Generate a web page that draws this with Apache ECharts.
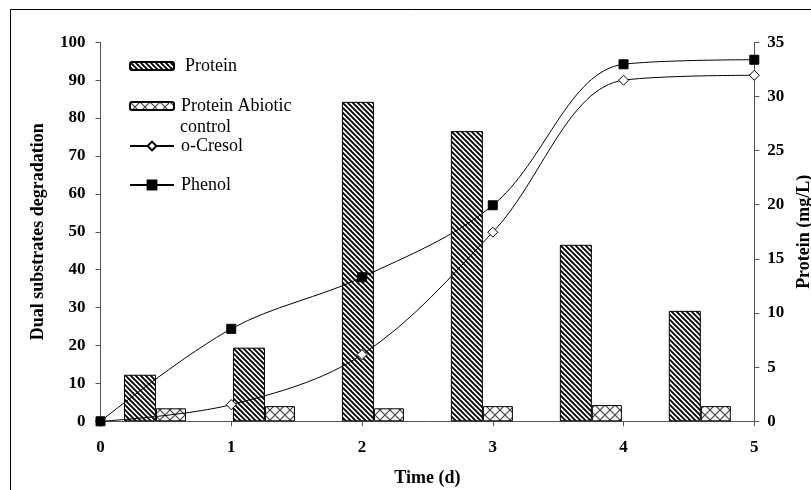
<!DOCTYPE html>
<html>
<head>
<meta charset="utf-8">
<script src="https://cdn.jsdelivr.net/npm/echarts@6/dist/echarts.min.js"></script>
<style>
  html, body { margin: 0; padding: 0; background: #fff; }
  #chart { width: 811px; height: 490px; }
</style>
</head>
<body>
<div id="chart"></div>
<script>
// time points (d) for the degradation curves
const days = [0, 1, 2, 3, 4, 5]
// dual substrates degradation (%)
const phenol = [0, 24.4, 38.0, 57.0, 94.2, 95.4]
const cresol = [0, 4.4, 17.6, 49.9, 90.0, 91.3]
// protein (mg/L), one bar group per day interval
const barSlots = ['0', '1', '2', '3', '4', '5']
const protein = [4.3, 6.8, 29.5, 26.8, 16.3, 10.2]
const abiotic = [1.2, 1.4, 1.2, 1.4, 1.5, 1.4]

const FONT = 'Liberation Serif, Times New Roman, serif'

// diagonal stripes for Protein bars
function stripePattern() {
  const c = document.createElement('canvas')
  c.width = 5; c.height = 5
  const g = c.getContext('2d')
  g.fillStyle = '#fff'
  g.fillRect(0, 0, 5, 5)
  g.strokeStyle = '#000'
  g.lineWidth = 1.9
  g.beginPath()
  g.moveTo(-1, -1); g.lineTo(6, 6)
  g.moveTo(-1, 4); g.lineTo(1, 6)
  g.moveTo(4, -1); g.lineTo(6, 1)
  g.stroke()
  return c
}

// cross hatch for abiotic control bars
function crossPattern() {
  const c = document.createElement('canvas')
  c.width = 10; c.height = 10
  const g = c.getContext('2d')
  g.fillStyle = '#fff'
  g.fillRect(0, 0, 10, 10)
  g.strokeStyle = '#444'
  g.lineWidth = 1.2
  g.beginPath()
  g.moveTo(0, 0); g.lineTo(10, 10)
  g.moveTo(10, 0); g.lineTo(0, 10)
  g.stroke()
  return c
}

const chart = echarts.init(document.getElementById('chart'))

const axisLine = { show: true, lineStyle: { color: '#555', width: 1 } }
const axisTick = { show: true, inside: false, length: 5, lineStyle: { color: '#555' } }
const labelStyle = { color: '#000', fontFamily: FONT, fontWeight: 'bold', fontSize: 17 }
const nameStyle = { color: '#000', fontFamily: FONT, fontWeight: 'bold', fontSize: 18 }

function legendAt(name, top, extra) {
  return Object.assign({
    data: [name],
    orient: 'vertical',
    left: 129,
    top: top,
    padding: 0,
    itemWidth: 44,
    itemHeight: 8,
    selectedMode: false,
    textStyle: { color: '#000', fontFamily: FONT, fontSize: 18, padding: [0, 0, 0, 2] }
  }, extra || {})
}

const option = {
  animation: false,
  backgroundColor: '#fff',
  grid: { left: 100.5, right: 56.7, top: 42.3, bottom: 68.7, containLabel: false, outerBoundsMode: 'none' },
  graphic: [
    {
      type: 'rect',
      shape: { x: 10.5, y: 9.5, width: 1000, height: 1000 },
      style: { fill: 'none', stroke: '#000', lineWidth: 1 },
      silent: true
    },
    {
      type: 'text',
      left: 180,
      top: 118,
      style: { text: 'control', fill: '#000', font: '18px ' + FONT }
    }
  ],
  legend: [
    legendAt('Protein', 57, { textStyle: { color: '#000', fontFamily: FONT, fontSize: 18, padding: [0, 0, 0, 6] } }),
    legendAt('Protein Abiotic control', 97, { formatter: () => 'Protein Abiotic' }),
    legendAt('o-Cresol', 137, { itemHeight: 11 }),
    legendAt('Phenol', 176, { itemHeight: 11 })
  ],
  xAxis: [
    {
      type: 'value',
      min: 0,
      max: 5,
      interval: 1,
      name: 'Time (d)',
      nameLocation: 'middle',
      nameGap: 48,
      nameTextStyle: nameStyle,
      axisLine: axisLine,
      axisTick: axisTick,
      axisLabel: Object.assign({ margin: 18 }, labelStyle),
      splitLine: { show: false }
    },
    {
      type: 'category',
      data: barSlots,
      show: false,
      boundaryGap: true
    }
  ],
  yAxis: [
    {
      type: 'value',
      min: 0,
      max: 100,
      interval: 10,
      name: 'Dual substrates degradation',
      nameLocation: 'middle',
      nameGap: 53,
      nameTextStyle: nameStyle,
      axisLine: axisLine,
      axisTick: axisTick,
      axisLabel: Object.assign({ margin: 15 }, labelStyle),
      splitLine: { show: false }
    },
    {
      type: 'value',
      position: 'right',
      min: 0,
      max: 35,
      interval: 5,
      name: 'Protein (mg/L)',
      nameLocation: 'middle',
      nameGap: 41,
      nameTextStyle: nameStyle,
      axisLine: axisLine,
      axisTick: axisTick,
      axisLabel: Object.assign({ margin: 13 }, labelStyle),
      splitLine: { show: false }
    }
  ],
  series: [
    {
      name: 'Protein',
      type: 'bar',
      xAxisIndex: 1,
      yAxisIndex: 1,
      data: protein,
      barWidth: 32,
      barGap: '0%',
      itemStyle: { color: { image: stripePattern(), repeat: 'repeat' }, borderColor: '#000', borderWidth: 1 },
      z: 2
    },
    {
      name: 'Protein Abiotic control',
      type: 'bar',
      xAxisIndex: 1,
      yAxisIndex: 1,
      data: abiotic,
      barWidth: 30,
      barGap: '0%',
      itemStyle: { color: { image: crossPattern(), repeat: 'repeat' }, borderColor: '#000', borderWidth: 1 },
      z: 2
    },
    {
      name: 'o-Cresol',
      type: 'line',
      xAxisIndex: 0,
      yAxisIndex: 0,
      data: days.map((d, i) => [d, cresol[i]]),
      smooth: 0.35,
      symbol: 'diamond',
      symbolSize: 10,
      lineStyle: { color: '#000', width: 1 },
      itemStyle: { color: '#fff', borderColor: '#000', borderWidth: 1 },
      z: 4
    },
    {
      name: 'Phenol',
      type: 'line',
      xAxisIndex: 0,
      yAxisIndex: 0,
      data: days.map((d, i) => [d, phenol[i]]),
      smooth: 0.35,
      symbol: 'rect',
      symbolSize: 9,
      lineStyle: { color: '#000', width: 1 },
      itemStyle: { color: '#000', borderColor: '#000', borderWidth: 1 },
      z: 5
    }
  ]
}

chart.setOption(option)
</script>
</body>
</html>
